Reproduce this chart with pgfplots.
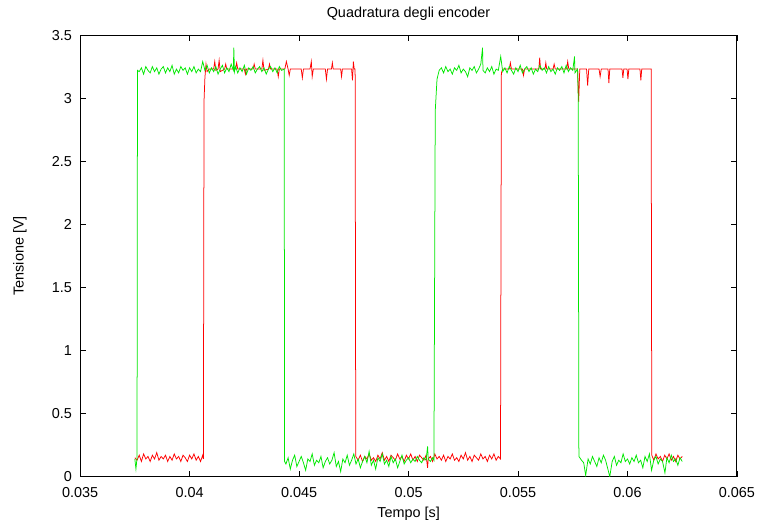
\documentclass[border=0pt]{standalone}
\usepackage{pgfplots}
\pgfplotsset{compat=1.18}
\usepackage{fontspec}
\setmainfont{Liberation Sans}
\definecolor{gpred}{RGB}{255,0,0}
\definecolor{gpgreen}{RGB}{0,232,0}
\pgfplotstableread{
x y
0.03750 0.15
0.03760 0.13
0.03770 0.17
0.03780 0.12
0.03790 0.18
0.03800 0.14
0.03810 0.16
0.03820 0.12
0.03830 0.17
0.03840 0.14
0.03850 0.19
0.03860 0.13
0.03870 0.16
0.03880 0.14
0.03890 0.17
0.03900 0.12
0.03910 0.16
0.03920 0.13
0.03930 0.18
0.03940 0.14
0.03950 0.16
0.03960 0.12
0.03970 0.17
0.03980 0.15
0.03990 0.12
0.04000 0.17
0.04010 0.14
0.04020 0.18
0.04030 0.13
0.04040 0.16
0.04050 0.12
0.04060 0.17
0.04063 0.14
0.04066 2.98
0.04070 3.16
0.04075 3.27
0.04080 3.21
0.04090 3.23
0.04110 3.23
0.04115 3.29
0.04120 3.22
0.04130 3.23
0.04135 3.30
0.04140 3.21
0.04160 3.23
0.04165 3.27
0.04170 3.23
0.04210 3.23
0.04215 3.28
0.04220 3.23
0.04250 3.23
0.04255 3.19
0.04260 3.23
0.04290 3.23
0.04295 3.27
0.04300 3.23
0.04330 3.23
0.04335 3.30
0.04340 3.22
0.04360 3.23
0.04365 3.27
0.04370 3.23
0.04400 3.23
0.04405 3.17
0.04410 3.23
0.04435 3.23
0.04442 3.29
0.04450 3.23
0.04455 3.18
0.04460 3.23
0.04510 3.23
0.04515 3.16
0.04520 3.23
0.04550 3.23
0.04556 3.29
0.04560 3.17
0.04565 3.23
0.04620 3.23
0.04625 3.15
0.04630 3.23
0.04648 3.23
0.04652 3.28
0.04656 3.23
0.04690 3.23
0.04694 3.17
0.04698 3.23
0.04740 3.23
0.04744 3.14
0.04748 3.29
0.04752 3.23
0.04756 3.23
0.04759 0.16
0.04770 0.13
0.04780 0.17
0.04790 0.12
0.04800 0.16
0.04810 0.14
0.04820 0.18
0.04830 0.13
0.04840 0.15
0.04850 0.12
0.04860 0.17
0.04870 0.14
0.04880 0.19
0.04890 0.13
0.04900 0.16
0.04910 0.12
0.04920 0.17
0.04930 0.15
0.04940 0.13
0.04950 0.18
0.04960 0.14
0.04970 0.16
0.04980 0.12
0.04990 0.17
0.05000 0.14
0.05010 0.18
0.05020 0.13
0.05030 0.16
0.05040 0.12
0.05050 0.17
0.05060 0.15
0.05070 0.13
0.05080 0.17
0.05087 0.07
0.05090 0.14
0.05100 0.16
0.05110 0.12
0.05120 0.18
0.05130 0.14
0.05140 0.16
0.05150 0.13
0.05160 0.17
0.05170 0.12
0.05180 0.16
0.05190 0.14
0.05200 0.18
0.05210 0.13
0.05220 0.15
0.05230 0.12
0.05240 0.17
0.05250 0.14
0.05260 0.19
0.05270 0.13
0.05280 0.16
0.05290 0.12
0.05300 0.17
0.05310 0.15
0.05320 0.13
0.05330 0.18
0.05340 0.14
0.05350 0.16
0.05360 0.12
0.05370 0.17
0.05380 0.14
0.05390 0.18
0.05400 0.13
0.05410 0.16
0.05420 0.14
0.05424 3.20
0.05430 3.23
0.05460 3.23
0.05465 3.28
0.05470 3.23
0.05520 3.23
0.05525 3.18
0.05530 3.23
0.05595 3.23
0.05599 3.32
0.05603 3.23
0.05623 3.23
0.05627 3.28
0.05631 3.23
0.05660 3.23
0.05665 3.27
0.05670 3.23
0.05722 3.23
0.05727 3.29
0.05732 3.23
0.05772 3.23
0.05777 2.97
0.05782 3.23
0.05813 3.23
0.05818 3.10
0.05823 3.23
0.05870 3.23
0.05875 3.17
0.05880 3.23
0.05911 3.23
0.05915 3.12
0.05919 3.23
0.05975 3.23
0.05979 3.16
0.05983 3.23
0.05998 3.23
0.06002 3.15
0.06006 3.23
0.06057 3.23
0.06061 3.14
0.06065 3.23
0.06108 3.23
0.06111 0.17
0.06120 0.13
0.06130 0.18
0.06140 0.14
0.06150 0.16
0.06160 0.12
0.06170 0.17
0.06180 0.14
0.06190 0.18
0.06200 0.13
0.06210 0.16
0.06220 0.12
0.06230 0.17
0.06240 0.14
0.06250 0.16
}\redtable
\pgfplotstableread{
x y
0.03750 0.14
0.03755 0.06
0.03760 0.15
0.03762 3.22
0.03770 3.21
0.03780 3.24
0.03790 3.19
0.03800 3.25
0.03810 3.22
0.03820 3.20
0.03830 3.25
0.03840 3.21
0.03850 3.24
0.03860 3.19
0.03870 3.23
0.03880 3.25
0.03890 3.20
0.03900 3.24
0.03910 3.21
0.03920 3.26
0.03930 3.19
0.03940 3.23
0.03950 3.20
0.03960 3.25
0.03970 3.22
0.03980 3.24
0.03990 3.19
0.04000 3.24
0.04010 3.21
0.04020 3.25
0.04030 3.20
0.04040 3.23
0.04050 3.21
0.04060 3.29
0.04070 3.22
0.04080 3.26
0.04090 3.20
0.04100 3.24
0.04110 3.21
0.04120 3.25
0.04130 3.19
0.04140 3.23
0.04150 3.26
0.04160 3.20
0.04170 3.24
0.04180 3.21
0.04190 3.27
0.04200 3.22
0.04202 3.40
0.04205 3.21
0.04210 3.25
0.04220 3.20
0.04230 3.24
0.04240 3.21
0.04250 3.26
0.04260 3.19
0.04270 3.24
0.04280 3.22
0.04290 3.25
0.04300 3.20
0.04310 3.23
0.04320 3.25
0.04330 3.21
0.04340 3.24
0.04350 3.19
0.04360 3.23
0.04370 3.25
0.04380 3.21
0.04390 3.24
0.04400 3.20
0.04410 3.25
0.04420 3.22
0.04432 3.23
0.04434 0.12
0.04440 0.10
0.04450 0.15
0.04460 0.06
0.04470 0.13
0.04480 0.17
0.04490 0.08
0.04500 0.12
0.04510 0.16
0.04520 0.11
0.04530 0.05
0.04540 0.14
0.04550 0.12
0.04560 0.18
0.04570 0.09
0.04580 0.13
0.04590 0.11
0.04600 0.16
0.04610 0.07
0.04620 0.12
0.04630 0.15
0.04640 0.10
0.04650 0.13
0.04660 0.19
0.04670 0.08
0.04680 0.12
0.04690 0.04
0.04700 0.14
0.04710 0.11
0.04720 0.17
0.04730 0.09
0.04740 0.13
0.04750 0.18
0.04760 0.10
0.04770 0.14
0.04780 0.07
0.04790 0.12
0.04800 0.16
0.04810 0.11
0.04820 0.20
0.04830 0.09
0.04840 0.13
0.04850 0.06
0.04860 0.15
0.04870 0.12
0.04880 0.18
0.04890 0.10
0.04900 0.13
0.04910 0.08
0.04920 0.16
0.04930 0.11
0.04940 0.14
0.04950 0.07
0.04960 0.12
0.04970 0.17
0.04980 0.10
0.04990 0.13
0.05000 0.15
0.05010 0.11
0.05020 0.14
0.05030 0.12
0.05040 0.16
0.05050 0.13
0.05060 0.11
0.05070 0.15
0.05080 0.13
0.05087 0.24
0.05090 0.14
0.05100 0.12
0.05110 0.15
0.05116 0.13
0.05122 2.90
0.05130 3.15
0.05140 3.22
0.05150 3.24
0.05160 3.20
0.05170 3.25
0.05180 3.21
0.05190 3.23
0.05200 3.19
0.05210 3.24
0.05220 3.22
0.05230 3.26
0.05240 3.20
0.05250 3.23
0.05260 3.21
0.05270 3.17
0.05280 3.24
0.05290 3.22
0.05300 3.25
0.05310 3.20
0.05320 3.23
0.05330 3.27
0.05338 3.40
0.05340 3.22
0.05350 3.20
0.05360 3.24
0.05370 3.21
0.05380 3.25
0.05390 3.19
0.05400 3.23
0.05410 3.22
0.05421 3.33
0.05430 3.21
0.05440 3.24
0.05450 3.20
0.05460 3.25
0.05470 3.22
0.05480 3.19
0.05490 3.24
0.05500 3.21
0.05510 3.26
0.05520 3.20
0.05530 3.23
0.05540 3.25
0.05550 3.21
0.05560 3.24
0.05570 3.19
0.05580 3.23
0.05590 3.21
0.05600 3.26
0.05610 3.22
0.05620 3.24
0.05630 3.20
0.05640 3.25
0.05650 3.21
0.05660 3.23
0.05670 3.19
0.05680 3.24
0.05690 3.22
0.05700 3.25
0.05710 3.20
0.05720 3.26
0.05730 3.21
0.05740 3.24
0.05750 3.22
0.05758 3.33
0.05760 3.20
0.05772 3.23
0.05775 3.00
0.05778 0.16
0.05790 0.13
0.05800 0.11
0.05809 0.01
0.05820 0.14
0.05830 0.10
0.05840 0.16
0.05850 0.12
0.05860 0.08
0.05870 0.15
0.05880 0.11
0.05890 0.17
0.05900 0.13
0.05919 0.00
0.05930 0.12
0.05940 0.16
0.05950 0.09
0.05960 0.13
0.05970 0.11
0.05980 0.18
0.05990 0.12
0.06000 0.14
0.06010 0.10
0.06020 0.15
0.06030 0.12
0.06040 0.17
0.06050 0.11
0.06060 0.13
0.06070 0.07
0.06080 0.16
0.06090 0.12
0.06100 0.18
0.06110 0.05
0.06120 0.13
0.06130 0.16
0.06140 0.10
0.06150 0.14
0.06160 0.12
0.06171 0.03
0.06180 0.15
0.06190 0.11
0.06200 0.17
0.06210 0.12
0.06220 0.14
0.06230 0.09
0.06240 0.15
0.06250 0.12
}\greentable
\begin{document}
\begin{tikzpicture}[font=\fontsize{14.4bp}{17bp}\selectfont]
\path[use as bounding box] (-80bp,-49bp) rectangle (676bp,476bp);
\begin{axis}[
  at={(0,0)}, anchor=south west, scale only axis,
  width=656bp, height=441bp,
  xmin=0.035, xmax=0.065, ymin=0, ymax=3.5,
  scaled x ticks=false, scaled y ticks=false,
  xtick={0.035,0.040,0.045,0.050,0.055,0.060,0.065},
  xticklabels={0.035,0.04,0.045,0.05,0.055,0.06,0.065},
  ytick={0,0.5,1,1.5,2,2.5,3,3.5},
  yticklabels={0,0.5,1,1.5,2,2.5,3,3.5},
  /pgf/number format/assume math mode=true,
  tick align=inside, major tick length=6bp,
  tick style={black, line width=0.8bp},
  axis line style={black, line width=1bp},
  tick label style={font=\fontsize{14.4bp}{17bp}\selectfont},
  xticklabel style={anchor=center, yshift=-16bp},
  yticklabel style={anchor=east, inner sep=0pt, xshift=-8bp},
  title={Quadratura degli encoder},
  title style={at={(axis description cs:0.5,1.034)}, anchor=center, font=\fontsize{14.4bp}{17bp}\selectfont},
  xlabel={Tempo [s]},
  xlabel style={at={(axis description cs:0.5,-0.084)}, anchor=center, font=\fontsize{14.4bp}{17bp}\selectfont},
  ylabel={Tensione [V]},
  ylabel style={at={(axis description cs:-0.0915,0.5)}, anchor=center, rotate=0, font=\fontsize{14.4bp}{17bp}\selectfont},
  clip=true,
]
\addplot[gpred, line width=0.75bp, no markers] table[x=x, y=y] {\redtable};
\addplot[gpgreen, line width=0.75bp, no markers] table[x=x, y=y] {\greentable};
\end{axis}
\end{tikzpicture}
\end{document}
